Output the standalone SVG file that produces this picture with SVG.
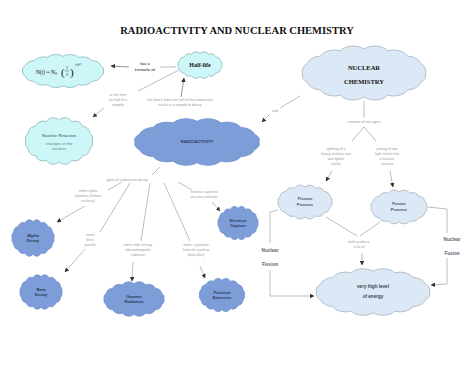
<svg xmlns="http://www.w3.org/2000/svg" width="474" height="366" viewBox="0 0 474 366">
<style>
.cl{stroke-width:0.8;vector-effect:non-scaling-stroke}
.cyan{fill:#cdf6f8;stroke:#8fb8bd}
.blue{fill:#7d9dd8;stroke:#7592cc}
.pale{fill:#dbe8f5;stroke:#a9b3bd}
.ln{fill:none;stroke:#b5b5b5;stroke-width:0.9}
.lbl{font-family:"Liberation Sans",Arial,sans-serif;font-size:3.6px;fill:#9a9a9a;text-anchor:middle}
.nt{font-family:"Liberation Sans",Arial,sans-serif;font-size:4.2px;fill:#2d3a55;text-anchor:middle;font-weight:bold}
.pt{font-family:"Liberation Sans",Arial,sans-serif;font-size:4.6px;fill:#5a6470;text-anchor:middle;font-weight:bold}
.sr{font-family:"Liberation Serif","Times New Roman",serif;fill:#111}
</style>
<defs>
<path id="cloud" class="cl" d="M50,0 A12,12 0 0 1 46.19,11.48 A12,12 0 0 1 35.36,21.21 A12,12 0 0 1 19.13,27.72 A12,12 0 0 1 0,30 A12,12 0 0 1 -19.13,27.72 A12,12 0 0 1 -35.36,21.21 A12,12 0 0 1 -46.19,11.48 A12,12 0 0 1 -50,0 A12,12 0 0 1 -46.19,-11.48 A12,12 0 0 1 -35.36,-21.21 A12,12 0 0 1 -19.13,-27.72 A12,12 0 0 1 0,-30 A12,12 0 0 1 19.13,-27.72 A12,12 0 0 1 35.36,-21.21 A12,12 0 0 1 46.19,-11.48 A12,12 0 0 1 50,0 Z"/>
<marker id="ah" viewBox="0 0 10 10" refX="9" refY="5" markerWidth="5" markerHeight="5" orient="auto"><path d="M0,0 L10,5 L0,10 Z" fill="#333"/></marker>
</defs>
<rect width="474" height="366" fill="#fff"/>
<text x="237" y="34" class="sr" font-size="10.5" font-weight="bold" text-anchor="middle">RADIOACTIVITY AND NUCLEAR CHEMISTRY</text>

<g id="connectors">
<line class="ln" x1="176" y1="67" x2="160" y2="67"/>
<line class="ln" x1="129" y1="67" x2="111" y2="66" marker-end="url(#ah)" style="stroke:#888"/>
<line class="ln" x1="138" y1="91" x2="179" y2="70"/>
<line class="ln" x1="181" y1="97" x2="184" y2="78" marker-end="url(#ah)" style="stroke:#888"/>
<line class="ln" x1="104" y1="108" x2="93" y2="117" marker-end="url(#ah)"/>
<line class="ln" x1="300" y1="96" x2="280" y2="108"/>
<line class="ln" x1="270" y1="114" x2="262" y2="122" marker-end="url(#ah)"/>
<line class="ln" x1="160" y1="167" x2="152" y2="175"/>
<line class="ln" x1="122" y1="182" x2="108" y2="190"/>
<line class="ln" x1="130" y1="183" x2="100" y2="232"/>
<line class="ln" x1="85" y1="249" x2="65" y2="272" marker-end="url(#ah)"/>
<line class="ln" x1="150" y1="183" x2="141" y2="241"/>
<line class="ln" x1="133" y1="262" x2="132" y2="281" marker-end="url(#ah)"/>
<line class="ln" x1="164" y1="183" x2="190" y2="241"/>
<line class="ln" x1="200" y1="266" x2="205" y2="278" marker-end="url(#ah)"/>
<line class="ln" x1="178" y1="182" x2="192" y2="190"/>
<line class="ln" x1="212" y1="202" x2="220" y2="211" marker-end="url(#ah)"/>
<line class="ln" x1="85" y1="206" x2="57" y2="222" marker-end="url(#ah)"/>
<line class="ln" x1="364" y1="101" x2="364" y2="118"/>
<line class="ln" x1="364" y1="127" x2="352" y2="141"/>
<line class="ln" x1="364" y1="127" x2="376" y2="141"/>
<line class="ln" x1="332" y1="171" x2="326" y2="181" marker-end="url(#ah)"/>
<line class="ln" x1="390" y1="171" x2="393" y2="187" marker-end="url(#ah)"/>
<line class="ln" x1="326" y1="217" x2="357" y2="236"/>
<line class="ln" x1="380" y1="222" x2="360" y2="236"/>
<line class="ln" x1="362" y1="253" x2="362" y2="265" marker-end="url(#ah)"/>
<polyline class="ln" points="278,210 270,212 270,243"/>
<polyline class="ln" points="270,270 270,296 314,296" marker-end="url(#ah)"/>
<polyline class="ln" points="428,207 447,209 447,233"/>
<polyline class="ln" points="447,258 447,284 431,285" marker-end="url(#ah)"/>
</g>

<g id="formula">
<use href="#cloud" class="cyan" transform="translate(63,71) scale(0.81,0.49)"/>
<text x="36" y="74" class="sr" font-size="5.5">N(t) = N<tspan font-size="3.8" dy="1.3">0</tspan></text>
<text x="61" y="75.5" class="sr" font-size="11">(</text>
<text x="67" y="69" class="sr" font-size="4.5" text-anchor="middle">1</text>
<line x1="64.8" y1="70.8" x2="69.2" y2="70.8" stroke="#111" stroke-width="0.4"/>
<text x="67" y="75.5" class="sr" font-size="4.5" text-anchor="middle">2</text>
<text x="70" y="75.5" class="sr" font-size="11">)</text>
<text x="75.5" y="66" class="sr" font-size="3.5">t/t½</text>
</g>
<g id="halflife">
<use href="#cloud" class="cyan" transform="translate(200,65) scale(0.44,0.39)"/>
<text x="200" y="67" class="sr" font-size="6" font-weight="bold" text-anchor="middle">Half-life</text>
</g>
<g id="has-formula">
<text x="145" y="65" class="sr" font-size="4.8" text-anchor="middle" fill="#333">has a</text>
<text x="145" y="71" class="sr" font-size="4.8" text-anchor="middle" fill="#333">formula of</text>
</g>
<g id="nuclear-chemistry">
<use href="#cloud" class="pale" transform="translate(364,73) scale(1.23,0.8)"/>
<text x="364" y="70" class="sr" font-size="6.5" font-weight="bold" text-anchor="middle">NUCLEAR</text>
<text x="364" y="84" class="sr" font-size="6.5" font-weight="bold" text-anchor="middle">CHEMISTRY</text>
</g>
<g id="radioactivity">
<use href="#cloud" class="blue" transform="translate(197,142) scale(1.24,0.69)"/>
<text x="197" y="143" class="nt">RADIOACTIVITY</text>
</g>
<g id="nuclear-reaction">
<use href="#cloud" class="cyan" transform="translate(59,141) scale(0.67,0.69)"/>
<text x="59" y="137" class="nt" style="fill:#5b8a8f">Nuclear Reaction</text>
<text x="59" y="145" class="nt" style="fill:#5b8a8f;font-weight:normal">changes in the</text>
<text x="59" y="150" class="nt" style="fill:#5b8a8f;font-weight:normal">nucleus</text>
</g>
<g id="alpha">
<use href="#cloud" class="blue" transform="translate(33,238) scale(0.42,0.54)"/>
<text x="33" y="237" class="nt">Alpha</text><text x="33" y="242" class="nt">Decay</text>
</g>
<g id="beta">
<use href="#cloud" class="blue" transform="translate(41,292) scale(0.42,0.51)"/>
<text x="41" y="291" class="nt">Beta</text><text x="41" y="296" class="nt">Decay</text>
</g>
<g id="gamma">
<use href="#cloud" class="blue" transform="translate(134,299) scale(0.6,0.51)"/>
<text x="134" y="298" class="nt">Gamma</text><text x="134" y="303" class="nt">Radiation</text>
</g>
<g id="positron">
<use href="#cloud" class="blue" transform="translate(222,295) scale(0.45,0.49)"/>
<text x="222" y="294" class="nt">Positron</text><text x="222" y="299" class="nt">Emission</text>
</g>
<g id="capture">
<use href="#cloud" class="blue" transform="translate(238,223) scale(0.4,0.49)"/>
<text x="238" y="222" class="nt">Electron</text><text x="238" y="227" class="nt">Capture</text>
</g>
<g id="fission">
<use href="#cloud" class="pale" transform="translate(305,202) scale(0.54,0.5)"/>
<text x="305" y="200" class="nt" style="fill:#4a5060">Fission</text><text x="305" y="206" class="nt" style="fill:#4a5060">Process</text>
</g>
<g id="fusion">
<use href="#cloud" class="pale" transform="translate(399,207) scale(0.56,0.5)"/>
<text x="399" y="205" class="nt" style="fill:#4a5060">Fusion</text><text x="399" y="211" class="nt" style="fill:#4a5060">Process</text>
</g>
<g id="energy">
<use href="#cloud" class="pale" transform="translate(373,292) scale(1.13,0.69)"/>
<text x="373" y="288" class="pt" style="fill:#3c4250">very high level</text><text x="373" y="298" class="pt" style="fill:#3c4250">of energy</text>
</g>
<g id="labels">
<text class="lbl"><tspan x="118" y="96">is the time</tspan><tspan x="118" y="101">for half of a</tspan><tspan x="118" y="106">sample</tspan></text>
<text class="lbl"><tspan x="180" y="101">the time it takes for half of the radioactive</tspan><tspan x="180" y="106">nuclei in a sample to decay</tspan></text>
<text class="lbl" x="275" y="112">and</text>
<text class="lbl" x="127" y="181">types of radioactive decay</text>
<text class="lbl"><tspan x="88" y="192">emits alpha</tspan><tspan x="88" y="197">particles (helium</tspan><tspan x="88" y="202">nucleus)</tspan></text>
<text class="lbl"><tspan x="90" y="236">emits</tspan><tspan x="90" y="241">beta</tspan><tspan x="90" y="246">particle</tspan></text>
<text class="lbl"><tspan x="138" y="246">emits high energy</tspan><tspan x="138" y="251">electromagnetic</tspan><tspan x="138" y="256">radiation</tspan></text>
<text class="lbl"><tspan x="196" y="246">emits a positron</tspan><tspan x="196" y="251">from the nucleus</tspan><tspan x="196" y="256">(beta plus)</tspan></text>
<text class="lbl"><tspan x="204" y="193">nucleus captures</tspan><tspan x="204" y="198">an inner electron</tspan></text>
<text class="lbl" x="364" y="123">consists of two types</text>
<text class="lbl"><tspan x="336" y="150">splitting of a</tspan><tspan x="336" y="155">heavy nucleus into</tspan><tspan x="336" y="160">two lighter</tspan><tspan x="336" y="165">nuclei</tspan></text>
<text class="lbl"><tspan x="387" y="150">joining of two</tspan><tspan x="387" y="155">light nuclei into</tspan><tspan x="387" y="160">a heavier</tspan><tspan x="387" y="165">nucleus</tspan></text>
<text class="lbl"><tspan x="359" y="243">both produce</tspan><tspan x="359" y="248">a lot of</tspan></text>
<text class="pt" x="270" y="252">Nuclear</text><text class="pt" x="270" y="266">Fission</text>
<text class="pt" x="452" y="241">Nuclear</text><text class="pt" x="452" y="255">Fusion</text>
</g>
</svg>
